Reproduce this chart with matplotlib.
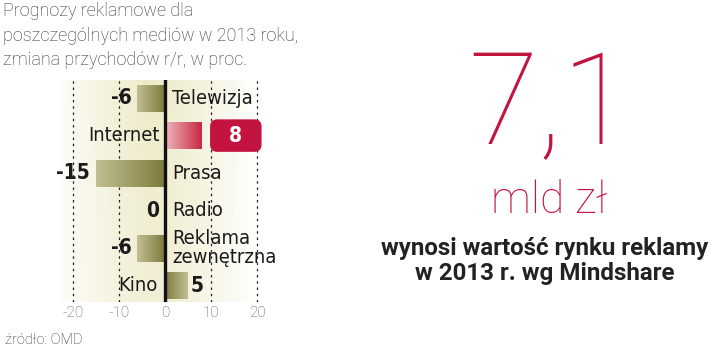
import matplotlib
matplotlib.use("Agg")
import matplotlib.pyplot as plt
import numpy as np
from matplotlib.colors import LinearSegmentedColormap

categories = ["Telewizja", "Internet", "Prasa", "Radio", "Reklama\nzewnętrzna", "Kino"]
values = [-6, 8, -15, 0, -6, 5]
value_labels = ["-6", "8", "-15", "0", "-6", "5"]
xticks = [-20, -10, 0, 10, 20]

title = "Prognozy reklamowe dla\nposzczególnych mediów w 2013 roku,\nzmiana przychodów r/r, w proc."
source = "źródło: OMD"
big_number = "7,1"
big_unit = "mld zł"
caption = "wynosi wartość rynku reklamy\nw 2013 r. wg Mindshare"

NARROW = ["DejaVu Sans"]
LIGHT = ["Roboto", "DejaVu Sans"]
RED = "#c3143f"

fig = plt.figure(figsize=(7.2, 3.51), dpi=100)
ax = fig.add_axes([60/720, 1-302/351, 208/720, 222/351])
ax.set_xlim(-22.83, 22.4)
ax.set_ylim(5.43, -0.48)

# background gradient
xs = np.linspace(-1, 1, 200)
ys = np.linspace(0, 1, 100)
X, Y = np.meshgrid(xs, ys)
bgw = np.clip(1 - np.abs(X + 0.1) ** 1.3, 0, 1) * (0.8 + 0.2 * (1 - Y))
bgcmap = LinearSegmentedColormap.from_list("bg", ["#ffffff", "#eeebcb"])
ax.imshow(bgw, cmap=bgcmap, extent=[0, 1, 0, 1], transform=ax.transAxes,
          aspect="auto", zorder=0, vmin=0, vmax=1)

for t in [-20, -10, 10, 20]:
    ax.axvline(t, color="#222222", lw=0.9, ls=(0, (2, 3)), zorder=1)

bars = ax.barh(range(len(values)), values, height=0.72, color="none", zorder=2)
olive = LinearSegmentedColormap.from_list("olive", ["#c2bf94", "#7d7a3e"])
redc = LinearSegmentedColormap.from_list("redc", ["#eeb7bf", "#c8283f"])
for b, v in zip(bars, values):
    if v == 0:
        continue
    x0, y0, w, h = b.get_x(), b.get_y(), b.get_width(), b.get_height()
    grad = np.linspace(0, 1, 100).reshape(1, -1)
    if v < 0:
        cmap = olive
        ext = [x0 + w, x0, y0 + h, y0]
    elif v > 6:
        cmap = redc
        ext = [x0, x0 + w, y0 + h, y0]
    else:
        cmap = olive
        grad = grad[:, ::-1]
        ext = [x0, x0 + w, y0 + h, y0]
    im = ax.imshow(grad, cmap=cmap, extent=ext, aspect="auto", zorder=2)
    im.set_clip_path(b)

ax.axvline(0, color="#111111", lw=2.4, zorder=4)

cat_kw = dict(fontsize=14.5, family=NARROW, fontstretch="condensed", color="#1a1a1a",
              linespacing=1.0, zorder=5)
val_kw = dict(fontsize=15, fontweight="bold", family=NARROW, fontstretch="condensed",
              zorder=5)
for i, (c, v, lab) in enumerate(zip(categories, values, value_labels)):
    if v <= 0:
        ax.text(1.5, i, c, ha="left", va="center", **cat_kw)
        ax.text(v - 1.3 if v < 0 else -1.2, i, lab, ha="right", va="center",
                color="#1a1a1a", **val_kw)
    elif v > 6:
        ax.text(-1.2, i, c, ha="right", va="center", **cat_kw)
        ax.text(v + 7.4, i, "  " + lab + "  ", ha="center", va="center", color="white",
                bbox=dict(boxstyle="round,pad=0.3,rounding_size=0.35", fc=RED, ec="none"),
                **val_kw)
    else:
        ax.text(-1.5, i, c, ha="right", va="center", **cat_kw)
        ax.text(v + 0.6, i, lab, ha="left", va="center", color="#1a1a1a", **val_kw)

ax.set_xticks(xticks)
ax.set_xticklabels([str(t) for t in xticks], family=LIGHT, fontweight="light",
                   fontsize=11, color="#555555")
ax.tick_params(axis="x", length=0, pad=3)
ax.set_yticks([])
for s in ax.spines.values():
    s.set_visible(False)

fig.text(3/720, 1-2/351, title, ha="left", va="top", fontsize=13, family=LIGHT,
         fontweight="light", color="#333333", linespacing=1.48)
fig.text(5/720, 1-340/351, source, ha="left", va="center", fontsize=10.5,
         family=LIGHT, fontweight="light", color="#333333")

fig.text(550/720, 1-109/351, big_number, ha="center", va="center", fontsize=92,
         family=LIGHT, fontweight=100, color=RED)
fig.text(549/720, 1-201/351, big_unit, ha="center", va="center", fontsize=32,
         family=LIGHT, fontweight="light", color=RED)
fig.text(545/720, 1-261/351, caption, ha="center", va="center", fontsize=17.4,
         family=LIGHT, fontweight="bold", color="#222222", linespacing=1.12)

fig.savefig("out.png", dpi=100, facecolor="white")
